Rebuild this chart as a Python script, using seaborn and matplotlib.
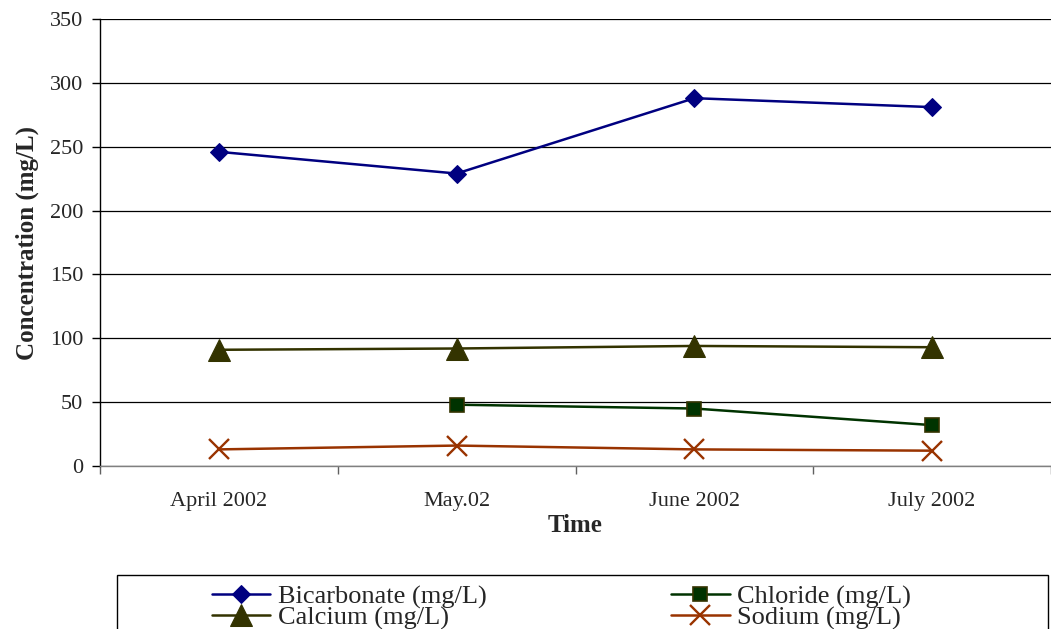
import numpy as np
import pandas as pd
import matplotlib
matplotlib.use("Agg")
import matplotlib.pyplot as plt
import seaborn as sns
from matplotlib.patches import Rectangle
from matplotlib.ticker import FixedLocator

# ---- data ----
months = ["April 2002", "May.02", "June 2002", "July 2002"]
bicarbonate = [246, 229, 288, 281]
chloride = [np.nan, 48, 45, 32]
calcium = [91, 92, 94, 93]
sodium = [13, 16, 13, 12]
series_names = ["Bicarbonate (mg/L)", "Chloride (mg/L)", "Calcium (mg/L)", "Sodium (mg/L)"]
y_ticks = [0, 50, 100, 150, 200, 250, 300, 350]

sns.set_style("white")
plt.rcParams['font.family'] = ['Liberation Serif', 'DejaVu Serif']

W, H = 1051, 629
fig = plt.figure(figsize=(W / 100, H / 100), dpi=100)
ax = fig.add_axes([100 / W, (H - 466) / H, 951 / W, 447 / H])

pos = np.arange(len(months))
styles = {
    "Bicarbonate (mg/L)": dict(color="#000080", marker="D", markersize=9.5,
                               markerfacecolor="#000080", markeredgecolor="#000080"),
    "Chloride (mg/L)": dict(color="#003300", marker="s", markersize=10,
                            markerfacecolor="#003300", markeredgecolor="#333300", markeredgewidth=1.2),
    "Calcium (mg/L)": dict(color="#333300", marker="^", markersize=16,
                           markerfacecolor="#333300", markeredgecolor="#333300"),
    "Sodium (mg/L)": dict(color="#993300", marker="x", markersize=15,
                          markeredgecolor="#993300", markeredgewidth=1.7),
}
values = dict(zip(series_names, [bicarbonate, chloride, calcium, sodium]))

for name in series_names:
    df = pd.DataFrame({"pos": pos, "value": values[name]})
    sns.lineplot(data=df, x="pos", y="value", ax=ax, label=name, linewidth=1.8,
                 errorbar=None, **styles[name])

handles, labels = ax.get_legend_handles_labels()
hmap = dict(zip(labels, handles))
if ax.get_legend() is not None:
    ax.get_legend().remove()

ax.set_xlim(-0.5, len(months) - 0.5)
ax.set_ylim(0, 350)
ax.set_yticks(y_ticks)
ax.set_xticks(pos)
ax.set_xticklabels(months)
ax.xaxis.set_minor_locator(FixedLocator(np.arange(-0.5, len(months), 1.0)))
ax.tick_params(axis='x', which='major', length=0, pad=19, labelsize=16)
ax.tick_params(axis='x', which='minor', length=6, width=1, color="#606060", bottom=True)
ax.tick_params(axis='y', which='major', length=6, width=1, color="black", left=True, pad=6, labelsize=16)

ax.yaxis.grid(True, color="black", linewidth=0.9)
ax.xaxis.grid(False)
ax.set_axisbelow(True)
for s in ["top", "right"]:
    ax.spines[s].set_visible(False)
ax.spines["left"].set_color("black")
ax.spines["left"].set_linewidth(1.0)
ax.spines["bottom"].set_color("#808080")
ax.spines["bottom"].set_linewidth(1.0)

ax.set_xlabel("Time", fontsize=18, fontweight="bold", labelpad=2)
ax.set_ylabel("Concentration (mg/L)", fontsize=18, fontweight="bold", labelpad=8)

# legend box (cropped at bottom)
fig.add_artist(Rectangle((117 / W, -0.05), (1048 - 117) / W, 0.05 + (H - 575) / H,
                         transform=fig.transFigure, fill=False, edgecolor="black",
                         linewidth=1.0, clip_on=False))
order = ["Bicarbonate (mg/L)", "Calcium (mg/L)", "Chloride (mg/L)", "Sodium (mg/L)"]
fig.legend([hmap[n] for n in order], order, loc="upper left",
           bbox_to_anchor=(212 / W, 1 - 585 / H), ncol=2, frameon=False,
           fontsize=19, handlelength=2.2, handletextpad=0.3, columnspacing=7.0,
           labelspacing=-0.12, borderpad=0, borderaxespad=0)

fig.savefig("out.png", dpi=100)
